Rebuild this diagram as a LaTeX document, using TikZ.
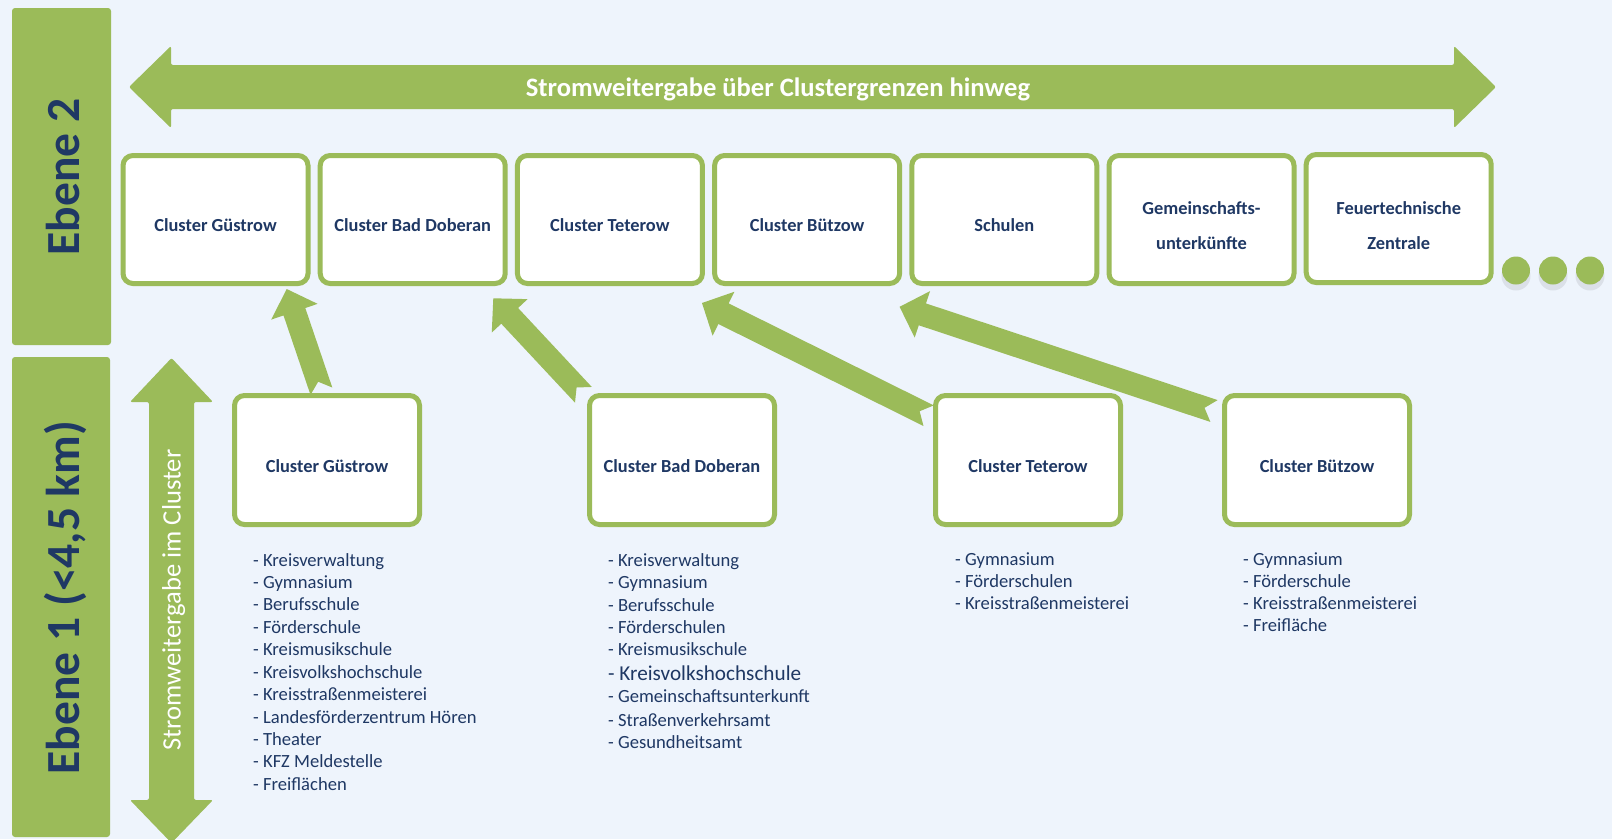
\documentclass[tikz,border=0pt]{standalone}
\usepackage{fontspec}
\setmainfont{Carlito}
\usetikzlibrary{calc}
\definecolor{grn}{HTML}{9BBB59}
\definecolor{navy}{HTML}{1F3864}
\definecolor{bgc}{HTML}{EEF4FC}
\newcommand\grnarrow[2]{%
  \coordinate (hb) at ($(#2)!24pt!(#1)$);
  \fill[grn] ($(#1)!11.5pt!90:(#2)$) -- ($(hb)!11.5pt!90:(#2)$) -- ($(hb)!24.5pt!90:(#2)$) -- (#2)
    -- ($(hb)!24.5pt!-90:(#2)$) -- ($(hb)!11.5pt!-90:(#2)$) -- ($(#1)!11.5pt!-90:(#2)$)
    -- ($(#1)!10pt!(#2)$) -- cycle;}
\begin{document}
\begin{tikzpicture}[x=1pt,y=-1pt,
  box/.style={draw=grn, line width=5pt, fill=white, rounded corners=10pt, minimum width=185pt, minimum height=128pt, inner sep=0pt},
  lbox/.style={box, minimum height=129pt},
  lbl/.style={font=\fontsize{18.4}{22}\selectfont\bfseries, text=navy, inner sep=0pt, anchor=base},
  itm/.style={font=\fontsize{18.6}{22}\selectfont, text=navy, inner sep=0pt, anchor=base west},
  band/.style={fill=grn, rounded corners=3pt},
  ebene/.style={font=\fontsize{47.5}{50}\selectfont\bfseries, text=navy, rotate=90, anchor=base, inner sep=0pt},
  dot/.style={circle, fill=grn, minimum size=28pt, inner sep=0pt},
  dotsh/.style={circle, fill=black, opacity=0.08, minimum size=29pt, inner sep=0pt}
]
\fill[bgc] (0,0) rectangle (1612,839);
\useasboundingbox (0,0) rectangle (1612,839);

% level bands
\fill[band] (12,8) rectangle (111,345);
\fill[band] (12,357) rectangle (110,837);
\node[ebene] (e2) at (79.5,177) {Ebene 2};
\node[ebene] (e1) at (79.5,597.5) {Ebene 1 (<4,5 km)};

% top double arrow
\fill[grn, rounded corners=2pt] (129,87) -- (171,46) -- (171,65) -- (1454,65) -- (1454,46) -- (1496,87)
  -- (1454,128) -- (1454,109) -- (171,109) -- (171,128) -- cycle;
\node[font=\fontsize{26.6}{30}\selectfont\bfseries, text=white, inner sep=0pt, anchor=base] (title) at (778,96)
  {Stromweitergabe über Clustergrenzen hinweg};

% vertical double arrow
\fill[grn, rounded corners=2pt] (171.5,358) -- (213,402) -- (194,402) -- (194,800) -- (213,800) -- (171.5,843)
  -- (130,800) -- (149,800) -- (149,402) -- (130,402) -- cycle;
\node[font=\fontsize{26.6}{30}\selectfont, text=white, inner sep=0pt, anchor=base, rotate=90] (vt) at (180.5,600)
  {Stromweitergabe im Cluster};

% top row boxes
\node[box] (t1) at (215.5,219.5) {};
\node[box] (t2) at (412.7,219.5) {};
\node[box] (t3) at (609.9,219.5) {};
\node[box] (t4) at (807.1,219.5) {};
\node[box] (t5) at (1004.3,219.5) {};
\node[box] (t6) at (1201.5,219.5) {};
\node[box] (t7) at (1398.7,218.5) {};
\node[lbl] (l1) at (215.5,231) {Cluster Güstrow};
\node[lbl] (l2) at (412.7,231) {Cluster Bad Doberan};
\node[lbl] (l3) at (609.9,231) {Cluster Teterow};
\node[lbl] (l4) at (807.1,231) {Cluster Bützow};
\node[lbl] (l5) at (1004.3,231) {Schulen};
\node[lbl] (l6a) at (1201.5,214) {Gemeinschafts-};
\node[lbl] (l6b) at (1201.5,249) {unterkünfte};
\node[lbl] (l7a) at (1398.7,214) {Feuertechnische};
\node[lbl] (l7b) at (1398.7,249) {Zentrale};

% dots
\foreach \x [count=\i] in {1516,1553,1590} {
  \node[dotsh] (ds\i) at (\x,276) {};
  \node[dot] (d\i) at (\x,270.5) {};
}

% lower boxes
\node[lbox] (b1) at (327,460) {};
\node[lbox] (b2) at (682,460) {};
\node[lbox] (b3) at (1028,460) {};
\node[lbox] (b4) at (1317,460) {};
\node[lbl] (m1) at (327,472) {Cluster Güstrow};
\node[lbl] (m2) at (682,472) {Cluster Bad Doberan};
\node[lbl] (m3) at (1028,472) {Cluster Teterow};
\node[lbl] (m4) at (1317,472) {Cluster Bützow};

% diagonal arrows
\coordinate (aT1) at (321.4,391.2); \coordinate (aH1) at (286.7,289);
\coordinate (aT2) at (583.4,394.8); \coordinate (aH2) at (493.3,298.3);
\coordinate (aT3) at (928.6,415.7); \coordinate (aH3) at (702,303);
\coordinate (aT4) at (1214,411);    \coordinate (aH4) at (899.6,306.8);
\grnarrow{aT1}{aH1}
\grnarrow{aT2}{aH2}
\grnarrow{aT3}{aH3}
\grnarrow{aT4}{aH4}

% lists
\foreach \t [count=\i from 0] in {Kreisverwaltung, Gymnasium, Berufsschule, Förderschule, Kreismusikschule,
  Kreisvolkshochschule, Kreisstraßenmeisterei, Landesförderzentrum Hören, Theater, KFZ Meldestelle, Freiflächen}
  \node[itm] (g\i) at (253,{566+22.43*\i}) {- \t};
\foreach \t/\yy [count=\i] in {Kreisverwaltung/566, Gymnasium/588.3, Berufsschule/611, Förderschulen/633.3,
  Kreismusikschule/655.3, Gemeinschaftsunterkunft/702.7, Straßenverkehrsamt/726, Gesundheitsamt/748.3}
  \node[itm] (bd\i) at (608,\yy) {- \t};
\node[itm, font=\fontsize{21.2}{25}\selectfont] (bdv) at (608,680) {- Kreisvolkshochschule};
\foreach \t [count=\i from 0] in {Gymnasium, Förderschulen, Kreisstraßenmeisterei}
  \node[itm] (te\i) at (955,{565.3+22.2*\i}) {- \t};
\foreach \t [count=\i from 0] in {Gymnasium, Förderschule, Kreisstraßenmeisterei, Freifläche}
  \node[itm] (bu\i) at (1243,{565.3+22.2*\i}) {- \t};
\end{tikzpicture}
\end{document}
